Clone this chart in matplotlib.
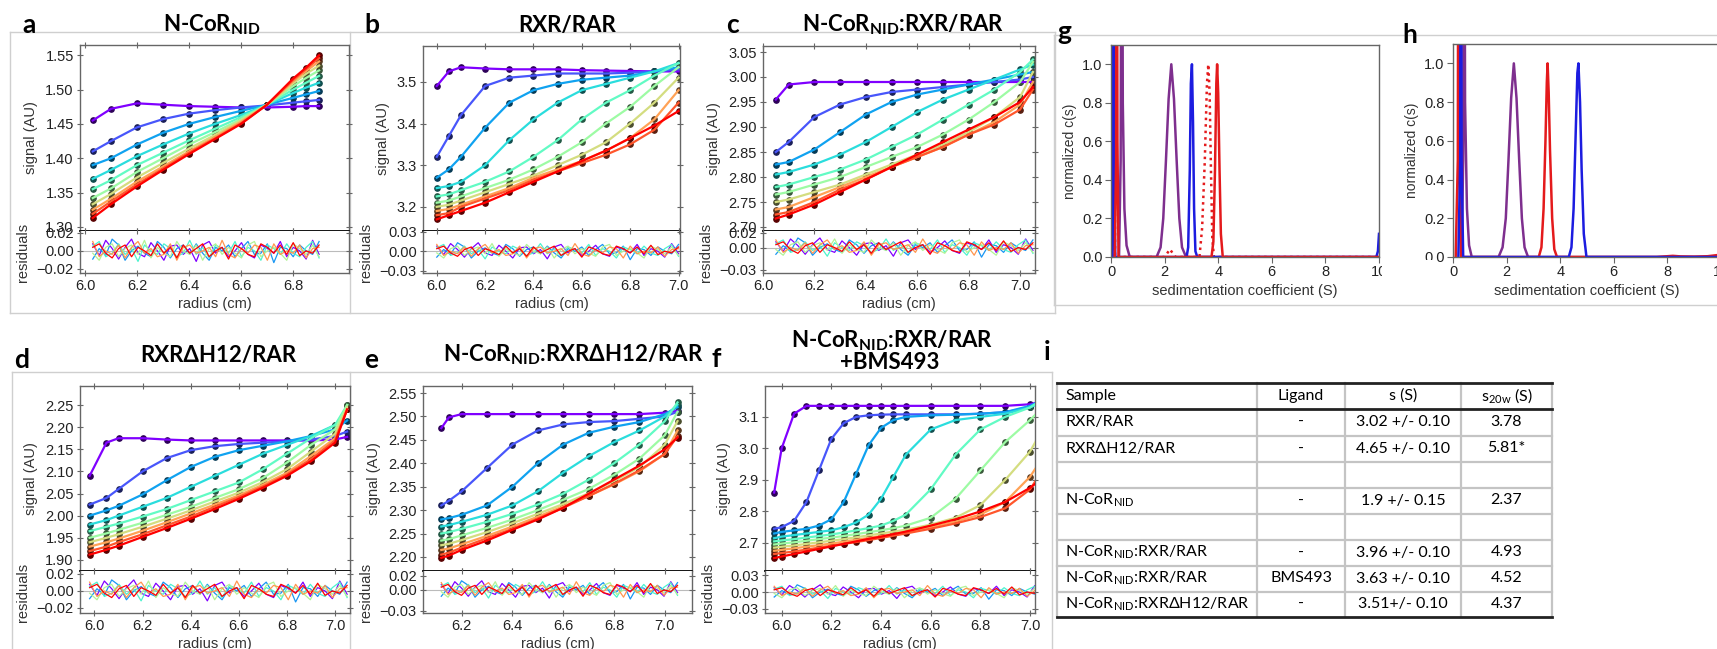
import numpy as np
import matplotlib
matplotlib.use("Agg")
import matplotlib.pyplot as plt
from matplotlib import cm
from matplotlib.patches import Rectangle

W, H = 1717, 649

plt.rcParams['font.family'] = ['Liberation Sans', 'DejaVu Sans']
plt.rcParams['mathtext.fontset'] = 'custom'
plt.rcParams['mathtext.rm'] = 'Lato'
plt.rcParams['mathtext.bf'] = 'Lato:bold'
plt.rcParams['mathtext.it'] = 'Lato:italic'

# ---- a: N-CoR NID ----
radius_a = [6.03, 6.1, 6.2, 6.3, 6.4, 6.5, 6.6, 6.7, 6.8, 6.85, 6.9]
scans_a = [
    [1.455, 1.472, 1.480, 1.478, 1.476, 1.475, 1.474, 1.474, 1.475, 1.476, 1.476],
    [1.410, 1.425, 1.445, 1.457, 1.465, 1.470, 1.474, 1.477, 1.481, 1.483, 1.485],
    [1.390, 1.400, 1.420, 1.437, 1.450, 1.460, 1.469, 1.478, 1.488, 1.493, 1.498],
    [1.370, 1.383, 1.403, 1.420, 1.436, 1.450, 1.463, 1.478, 1.495, 1.503, 1.510],
    [1.355, 1.368, 1.390, 1.408, 1.426, 1.443, 1.460, 1.478, 1.500, 1.510, 1.520],
    [1.342, 1.356, 1.380, 1.400, 1.420, 1.438, 1.457, 1.478, 1.505, 1.517, 1.528],
    [1.333, 1.348, 1.372, 1.393, 1.414, 1.434, 1.455, 1.478, 1.509, 1.523, 1.535],
    [1.325, 1.341, 1.366, 1.388, 1.410, 1.431, 1.453, 1.478, 1.512, 1.527, 1.541],
    [1.319, 1.337, 1.362, 1.385, 1.408, 1.429, 1.451, 1.478, 1.514, 1.530, 1.546],
    [1.313, 1.333, 1.359, 1.383, 1.406, 1.428, 1.450, 1.478, 1.516, 1.532, 1.550],
]

# ---- b: RXR/RAR ----
radius_b = [6.0, 6.05, 6.1, 6.2, 6.3, 6.4, 6.5, 6.6, 6.7, 6.8, 6.9, 7.0]
scans_b = [
    [3.490, 3.525, 3.535, 3.532, 3.530, 3.530, 3.530, 3.528, 3.527, 3.526, 3.525, 3.525],
    [3.320, 3.370, 3.420, 3.490, 3.510, 3.515, 3.520, 3.520, 3.520, 3.522, 3.525, 3.530],
    [3.270, 3.290, 3.320, 3.390, 3.450, 3.480, 3.495, 3.505, 3.510, 3.515, 3.525, 3.535],
    [3.245, 3.250, 3.260, 3.300, 3.360, 3.410, 3.450, 3.480, 3.495, 3.510, 3.525, 3.545],
    [3.225, 3.230, 3.240, 3.260, 3.285, 3.320, 3.360, 3.410, 3.450, 3.480, 3.515, 3.545],
    [3.210, 3.215, 3.225, 3.245, 3.265, 3.290, 3.320, 3.355, 3.400, 3.440, 3.490, 3.535],
    [3.200, 3.205, 3.215, 3.235, 3.255, 3.275, 3.300, 3.325, 3.355, 3.400, 3.450, 3.510],
    [3.190, 3.195, 3.205, 3.225, 3.245, 3.270, 3.290, 3.310, 3.335, 3.365, 3.410, 3.480],
    [3.180, 3.185, 3.200, 3.220, 3.240, 3.265, 3.285, 3.305, 3.325, 3.350, 3.385, 3.450],
    [3.170, 3.180, 3.190, 3.210, 3.235, 3.260, 3.285, 3.310, 3.335, 3.365, 3.395, 3.430],
]

# ---- c: N-CoR NID : RXR/RAR ----
radius_c = [6.05, 6.1, 6.2, 6.3, 6.4, 6.5, 6.6, 6.7, 6.8, 6.9, 7.0, 7.05]
scans_c = [
    [2.955, 2.985, 2.990, 2.990, 2.990, 2.990, 2.990, 2.990, 2.990, 2.990, 2.990, 2.990],
    [2.850, 2.870, 2.920, 2.945, 2.960, 2.970, 2.975, 2.980, 2.985, 2.990, 2.995, 3.000],
    [2.825, 2.830, 2.855, 2.890, 2.925, 2.950, 2.965, 2.975, 2.985, 2.995, 3.005, 3.010],
    [2.805, 2.810, 2.825, 2.845, 2.870, 2.900, 2.930, 2.955, 2.975, 2.995, 3.015, 3.025],
    [2.780, 2.785, 2.800, 2.815, 2.835, 2.860, 2.885, 2.915, 2.945, 2.975, 3.010, 3.035],
    [2.765, 2.770, 2.785, 2.800, 2.820, 2.840, 2.860, 2.885, 2.915, 2.950, 2.990, 3.030],
    [2.750, 2.755, 2.770, 2.785, 2.805, 2.825, 2.845, 2.865, 2.890, 2.920, 2.960, 3.010],
    [2.735, 2.740, 2.760, 2.780, 2.800, 2.820, 2.840, 2.860, 2.885, 2.910, 2.945, 2.990],
    [2.725, 2.730, 2.750, 2.775, 2.795, 2.820, 2.840, 2.860, 2.885, 2.905, 2.935, 2.975],
    [2.717, 2.725, 2.745, 2.770, 2.795, 2.820, 2.845, 2.870, 2.895, 2.920, 2.950, 2.980],
]

# ---- d: RXR dH12/RAR ----
radius_d = [5.98, 6.05, 6.1, 6.2, 6.3, 6.4, 6.5, 6.6, 6.7, 6.8, 6.9, 7.0, 7.05]
scans_d = [
    [2.090, 2.165, 2.175, 2.175, 2.172, 2.170, 2.170, 2.170, 2.170, 2.170, 2.170, 2.172, 2.178],
    [2.025, 2.040, 2.060, 2.100, 2.130, 2.148, 2.157, 2.162, 2.165, 2.168, 2.172, 2.180, 2.190],
    [2.000, 2.012, 2.022, 2.048, 2.080, 2.110, 2.133, 2.148, 2.158, 2.168, 2.180, 2.195, 2.215],
    [1.980, 1.990, 2.000, 2.020, 2.040, 2.065, 2.090, 2.115, 2.140, 2.160, 2.180, 2.205, 2.240],
    [1.965, 1.975, 1.982, 1.998, 2.015, 2.035, 2.055, 2.075, 2.105, 2.140, 2.175, 2.205, 2.250],
    [1.950, 1.960, 1.968, 1.984, 2.002, 2.020, 2.040, 2.060, 2.085, 2.120, 2.160, 2.195, 2.250],
    [1.940, 1.950, 1.958, 1.975, 1.993, 2.012, 2.032, 2.052, 2.076, 2.105, 2.145, 2.185, 2.245],
    [1.930, 1.940, 1.948, 1.966, 1.985, 2.005, 2.025, 2.046, 2.070, 2.097, 2.135, 2.175, 2.240],
    [1.920, 1.930, 1.940, 1.958, 1.978, 1.998, 2.020, 2.042, 2.066, 2.093, 2.128, 2.170, 2.240],
    [1.912, 1.923, 1.932, 1.952, 1.972, 1.993, 2.015, 2.038, 2.063, 2.090, 2.123, 2.165, 2.240],
]

# ---- e: N-CoR NID : RXR dH12/RAR ----
radius_e = [6.12, 6.15, 6.2, 6.3, 6.4, 6.5, 6.6, 6.7, 6.8, 6.9, 7.0, 7.05]
scans_e = [
    [2.475, 2.498, 2.505, 2.505, 2.505, 2.505, 2.505, 2.505, 2.505, 2.505, 2.508, 2.512],
    [2.310, 2.320, 2.340, 2.390, 2.440, 2.470, 2.483, 2.488, 2.490, 2.495, 2.500, 2.510],
    [2.280, 2.283, 2.290, 2.310, 2.350, 2.400, 2.440, 2.465, 2.478, 2.488, 2.505, 2.520],
    [2.265, 2.268, 2.275, 2.290, 2.310, 2.340, 2.380, 2.415, 2.445, 2.470, 2.500, 2.525],
    [2.250, 2.253, 2.260, 2.275, 2.292, 2.312, 2.335, 2.365, 2.400, 2.440, 2.490, 2.530],
    [2.235, 2.238, 2.246, 2.262, 2.280, 2.300, 2.322, 2.345, 2.375, 2.410, 2.460, 2.510],
    [2.225, 2.228, 2.236, 2.253, 2.272, 2.292, 2.313, 2.336, 2.362, 2.392, 2.440, 2.490],
    [2.215, 2.218, 2.227, 2.245, 2.265, 2.286, 2.308, 2.330, 2.355, 2.383, 2.420, 2.470],
    [2.205, 2.209, 2.220, 2.240, 2.260, 2.282, 2.305, 2.330, 2.356, 2.385, 2.420, 2.458],
    [2.198, 2.203, 2.215, 2.235, 2.258, 2.280, 2.305, 2.335, 2.365, 2.395, 2.430, 2.455],
]

# ---- f: N-CoR NID : RXR/RAR + BMS493 ----
radius_f = [5.97, 6.0, 6.05, 6.1, 6.15, 6.2, 6.25, 6.3, 6.35, 6.4, 6.45, 6.5,
            6.6, 6.7, 6.8, 6.9, 7.0, 7.05]
scans_f = [
    [2.860, 3.000, 3.110, 3.135, 3.135, 3.135, 3.135, 3.135, 3.135, 3.135, 3.135, 3.135,
     3.135, 3.135, 3.135, 3.135, 3.140, 3.150],
    [2.745, 2.750, 2.770, 2.830, 2.930, 3.030, 3.080, 3.100, 3.105, 3.107, 3.108, 3.108,
     3.108, 3.108, 3.110, 3.115, 3.130, 3.150],
    [2.730, 2.735, 2.740, 2.745, 2.755, 2.775, 2.830, 2.920, 3.010, 3.065, 3.090, 3.100,
     3.105, 3.107, 3.110, 3.115, 3.135, 3.155],
    [2.715, 2.720, 2.725, 2.730, 2.735, 2.740, 2.750, 2.765, 2.790, 2.840, 2.910, 2.980,
     3.060, 3.090, 3.100, 3.110, 3.130, 3.150],
    [2.705, 2.708, 2.712, 2.717, 2.722, 2.727, 2.733, 2.740, 2.747, 2.755, 2.770, 2.790,
     2.870, 2.980, 3.060, 3.100, 3.130, 3.155],
    [2.695, 2.698, 2.702, 2.707, 2.712, 2.717, 2.722, 2.728, 2.734, 2.740, 2.747, 2.755,
     2.780, 2.840, 2.930, 3.020, 3.090, 3.130],
    [2.685, 2.688, 2.692, 2.697, 2.702, 2.707, 2.712, 2.718, 2.724, 2.730, 2.736, 2.742,
     2.758, 2.780, 2.820, 2.900, 2.990, 3.060],
    [2.675, 2.678, 2.683, 2.688, 2.693, 2.698, 2.704, 2.710, 2.716, 2.722, 2.728, 2.735,
     2.750, 2.768, 2.790, 2.830, 2.910, 2.970],
    [2.665, 2.668, 2.673, 2.679, 2.685, 2.691, 2.697, 2.703, 2.709, 2.716, 2.723, 2.730,
     2.745, 2.762, 2.782, 2.810, 2.870, 2.930],
    [2.652, 2.657, 2.665, 2.673, 2.681, 2.689, 2.697, 2.705, 2.713, 2.720, 2.728, 2.736,
     2.755, 2.775, 2.800, 2.830, 2.875, 2.905],
]

# residual traces (units of 0.001), estimated
residuals = [
    [6, -4, 9, 2, -7, 3, 10, -2, -5, 7, 0, -8, 4, 5, -3, 2, -9, 5, 8, -2, 3, -5, 0, 7, -3, -6, 5, 2, -2, 8, -5, 3, 0, -7, 9, -3],
    [-7, 2, -4, 10, 5, -8, 0, 4, -2, -5, 8, 3, -6, 2, 5, -3, 6, -2, -8, 3, 0, 5, -5, 2, 8, -3, -2, 6, -10, 3, 2, -5, 5, 0, -3, 8],
    [4, 8, -5, -2, 6, -3, 2, -9, 5, 0, -3, 6, 2, -5, -2, 9, -3, 3, -6, 5, 2, -2, 8, -5, 3, 0, -8, 5, 2, -3, 6, -2, -5, 3, 8, -6],
    [-2, -8, 3, 6, -5, 2, 5, -3, 9, -6, 3, -2, -5, 8, 0, -3, 5, -8, 2, 6, -3, 3, -2, -6, 5, 8, -5, 0, 3, -2, -8, 6, 2, -3, 5, -5],
    [8, -5, 0, -3, 5, -6, 3, 8, -2, 2, -5, -3, 6, -8, 3, 5, -2, 0, 3, -5, 9, -3, -6, 2, -2, 5, 3, -8, 6, -3, 0, -2, 5, -6, 2, 3],
    [3, 6, -2, -6, 2, 5, -5, 3, 0, -4, 6, -2, 3, -6, 5, -2, 2, 6, -5, 0, 3, -7, 5, 2, -3, -5, 6, 3, -2, 5, -3, 7, -4, 0, -2, 5],
]

# sedimentation coefficient distributions, panel g
g_purple_x = [0.30, 0.36, 0.40, 0.44, 0.50, 0.58, 0.70, 1.70, 1.85, 1.95, 2.05, 2.15, 2.25, 2.35, 2.45, 2.55, 2.65, 2.80, 10.0]
g_purple_y = [0.0, 0.5, 3.0, 0.8, 0.25, 0.06, 0.0, 0.0, 0.05, 0.2, 0.5, 0.82, 1.0, 0.82, 0.5, 0.2, 0.05, 0.0, 0.0]
g_blue_x = [0.0, 0.06, 0.09, 0.12, 0.16, 2.82, 2.88, 2.94, 2.98, 3.02, 3.06, 3.10, 3.15, 3.22, 9.90, 9.96, 10.0]
g_blue_y = [0.0, 0.0, 3.0, 0.4, 0.0, 0.0, 0.05, 0.45, 0.9, 1.0, 0.7, 0.25, 0.03, 0.0, 0.0, 0.03, 0.12]
g_red_x = [0.14, 0.19, 0.21, 0.24, 0.28, 3.75, 3.82, 3.88, 3.93, 3.96, 4.00, 4.05, 4.10, 4.17, 10.0]
g_red_y = [0.0, 0.5, 3.0, 0.6, 0.0, 0.0, 0.08, 0.45, 0.9, 1.0, 0.85, 0.45, 0.12, 0.0, 0.0]
g_reddot_x = [0.05, 0.10, 0.15, 2.0, 2.1, 2.2, 2.3, 2.4, 3.3, 3.4, 3.5, 3.58, 3.63, 3.68, 3.73, 3.78, 3.84, 10.0]
g_reddot_y = [0.0, 3.0, 0.0, 0.0, 0.02, 0.04, 0.02, 0.0, 0.0, 0.15, 0.5, 0.9, 1.0, 0.85, 0.45, 0.1, 0.0, 0.0]

# panel h
h_purple_x = [0.32, 0.38, 0.41, 0.45, 0.52, 0.60, 0.70, 1.70, 1.85, 1.97, 2.07, 2.17, 2.27, 2.37, 2.47, 2.57, 2.67, 2.80, 10.0]
h_purple_y = [0.0, 0.5, 3.0, 0.8, 0.25, 0.06, 0.0, 0.0, 0.05, 0.2, 0.5, 0.82, 1.0, 0.82, 0.5, 0.2, 0.05, 0.0, 0.0]
h_red_x = [0.10, 0.18, 0.21, 0.24, 0.30, 3.20, 3.30, 3.38, 3.45, 3.50, 3.53, 3.57, 3.62, 3.70, 3.78, 3.88,
           7.6, 8.0, 8.2, 8.5, 9.0, 9.5, 10.0]
h_red_y = [0.0, 0.5, 3.0, 0.5, 0.0, 0.0, 0.05, 0.25, 0.6, 0.9, 1.0, 0.85, 0.55, 0.2, 0.04, 0.0,
           0.0, 0.004, 0.006, 0.003, 0.002, 0.004, 0.012]
h_blue_x = [0.20, 0.27, 0.29, 0.32, 0.38, 4.32, 4.42, 4.50, 4.58, 4.64, 4.68, 4.74, 4.80, 4.88, 4.98, 10.0]
h_blue_y = [0.0, 0.5, 3.0, 0.5, 0.0, 0.0, 0.05, 0.25, 0.65, 0.95, 1.0, 0.8, 0.45, 0.12, 0.0, 0.0]

# table i
NID = "N-CoR$_{\\mathrm{NID}}$"
tab_header = ["Sample", "Ligand", "s (S)", "s$_{\\mathrm{20w}}$ (S)"]
tab_sample = ["RXR/RAR", "RXR\u0394H12/RAR", "", NID, "",
              NID + ":RXR/RAR", NID + ":RXR/RAR", NID + ":RXR\u0394H12/RAR"]
tab_ligand = ["-", "-", "", "-", "", "-", "BMS493", "-"]
tab_s = ["3.02 +/- 0.10", "4.65 +/- 0.10", "", "1.9 +/- 0.15", "",
         "3.96 +/- 0.10", "3.63 +/- 0.10", "3.51+/- 0.10"]
tab_s20w = ["3.78", "5.81*", "", "2.37", "", "4.93", "4.52", "4.37"]

PURPLE, BLUE, RED = '#7e2f8e', '#1c1ce0', '#e41a1c'
SPINE = '#666666'
TFONT = ['Lato', 'DejaVu Sans']
NID_B = "N-CoR$_{\\mathbf{NID}}$"


def px_axes(fig, l, t, r, b):
    return fig.add_axes([l / W, 1 - b / H, (r - l) / W, (b - t) / H])


def sv_panel(fig, box, scans, radius, xlim, ylim, yticks, yfmt, xticks, rlim, rticks):
    l, t, r, d, b = box
    ax = px_axes(fig, l, t, r, d)
    rx = px_axes(fig, l, d, r, b)
    n = len(scans)
    for i, scan in enumerate(scans):
        col = cm.rainbow(i / (n - 1))
        dark = tuple(c * 0.35 for c in col[:3])
        ax.plot(radius, scan, 'o', ms=3.8, color=dark, zorder=2)
        ax.plot(radius, scan, '-', lw=1.6, color=col, zorder=3)
    ax.set_xlim(xlim)
    ax.set_ylim(ylim)
    ax.set_yticks(yticks)
    ax.set_yticklabels([yfmt % v for v in yticks])
    ax.set_xticks(xticks)
    ax.set_xticklabels([])
    ax.set_ylabel('signal (AU)', fontsize=10.5, color='#333333', labelpad=5)

    nr = len(residuals)
    rx.axhline(0, color='#bbbbbb', lw=0.8, zorder=1)
    for i, res in enumerate(residuals):
        xs = np.linspace(radius[0], radius[-1], len(res))
        rx.plot(xs, np.array(res) * 0.0013, lw=0.9, color=cm.rainbow(i / (nr - 1)), zorder=2)
    rx.set_xlim(xlim)
    rx.set_ylim(rlim)
    rx.set_yticks(rticks)
    rx.set_yticklabels(['%.2f' % v if v >= 0 else '\u2212%.2f' % -v for v in rticks])
    rx.set_xticks(xticks)
    rx.set_xticklabels(['%.1f' % v for v in xticks])
    rx.set_ylabel('residuals', fontsize=10.5, color='#333333', labelpad=5)
    rx.set_xlabel('radius (cm)', fontsize=10.5, color='#333333', labelpad=3)

    for a in (ax, rx):
        a.tick_params(direction='inout', length=5, width=0.8, color=SPINE,
                      top=True, right=True, labelsize=10.5, labelcolor='#222222', pad=2)
        for s in a.spines.values():
            s.set_color(SPINE)
            s.set_linewidth(1.0)
    ax.spines['bottom'].set_color('black')
    ax.spines['bottom'].set_linewidth(1.3)
    rx.spines['top'].set_visible(False)


def cs_panel(fig, box, curves):
    ax = px_axes(fig, *box)
    for xs, ys, col, ls in curves:
        ax.plot(xs, ys, color=col, lw=1.8, linestyle=ls)
    ax.set_xlim(0, 10)
    ax.set_ylim(0, 1.1)
    ax.set_xticks([0, 2, 4, 6, 8, 10])
    ax.set_xticklabels(['0', '2', '4', '6', '8', '10'])
    ax.set_yticks([0, 0.2, 0.4, 0.6, 0.8, 1.0])
    ax.set_yticklabels(['0.0', '0.2', '0.4', '0.6', '0.8', '1.0'])
    ax.tick_params(direction='out', length=4, width=0.8, color=SPINE,
                   labelsize=10.5, labelcolor='#222222', pad=2)
    for s in ax.spines.values():
        s.set_color(SPINE)
        s.set_linewidth(1.0)
    ax.set_ylabel('normalized c(s)', fontsize=10, color='#333333', labelpad=4)
    ax.set_xlabel('sedimentation coefficient (S)', fontsize=10.5, color='#333333', labelpad=3)
    return ax


fig = plt.figure(figsize=(W / 100, H / 100), dpi=100)

# overlay in pixel coordinates for boxes, titles and table
ov = fig.add_axes([0, 0, 1, 1])
ov.set_xlim(0, W)
ov.set_ylim(H, 0)
ov.axis('off')
ov.set_zorder(-1)

box_col = '#cfcfcf'
for xs, ys in [([10, 1055], [32, 32]), ([10, 1055], [313, 313]), ([10, 10], [32, 313]),
               ([350, 350], [32, 313]), ([1055, 1055], [32, 313]),
               ([1054, 1717], [35, 35]), ([1054, 1717], [305, 305]), ([1054, 1054], [35, 305]),
               ([12, 1052], [372, 372]), ([12, 12], [372, 649]), ([350, 350], [372, 649]),
               ([1052, 1052], [372, 649])]:
    ov.plot(xs, ys, color=box_col, lw=1.0)

sv_panel(fig, (80, 45, 349, 231, 273), scans_a, radius_a, (5.981, 7.015), (1.294, 1.565),
         [1.30, 1.35, 1.40, 1.45, 1.50, 1.55], '%.2f', [6.0, 6.2, 6.4, 6.6, 6.8],
         (-0.0245, 0.022), [-0.02, 0.0, 0.02])
sv_panel(fig, (423, 46, 680, 231, 273), scans_b, radius_b, (5.943, 7.006), (3.142, 3.586),
         [3.2, 3.3, 3.4, 3.5], '%.1f', [6.0, 6.2, 6.4, 6.6, 6.8, 7.0],
         (-0.0334, 0.031), [-0.03, 0.0, 0.03])
sv_panel(fig, (763, 46, 1035, 231, 273), scans_c, radius_c, (6.0, 7.058), (2.692, 3.062),
         [2.70, 2.75, 2.80, 2.85, 2.90, 2.95, 3.00, 3.05], '%.2f', [6.0, 6.2, 6.4, 6.6, 6.8, 7.0],
         (-0.0345, 0.0225), [-0.03, 0.0, 0.02])
sv_panel(fig, (80, 386, 350, 571, 613), scans_d, radius_d, (5.94, 7.062), (1.875, 2.293),
         [1.90, 1.95, 2.00, 2.05, 2.10, 2.15, 2.20, 2.25], '%.2f', [6.0, 6.2, 6.4, 6.6, 6.8, 7.0],
         (-0.026, 0.0235), [-0.02, 0.0, 0.02])
sv_panel(fig, (423, 386, 692, 571, 613), scans_e, radius_e, (6.048, 7.107), (2.17, 2.565),
         [2.20, 2.25, 2.30, 2.35, 2.40, 2.45, 2.50, 2.55], '%.2f', [6.2, 6.4, 6.6, 6.8, 7.0],
         (-0.033, 0.027), [-0.03, 0.0, 0.02])
sv_panel(fig, (765, 386, 1035, 571, 613), scans_f, radius_f, (5.933, 7.02), (2.611, 3.198),
         [2.7, 2.8, 2.9, 3.0, 3.1], '%.1f', [6.0, 6.2, 6.4, 6.6, 6.8, 7.0],
         (-0.038, 0.038), [-0.03, 0.0, 0.03])

cs_panel(fig, (1111, 45, 1379, 257), [
    (g_reddot_x, g_reddot_y, RED, (0, (1, 1.6))),
    (g_purple_x, g_purple_y, PURPLE, '-'),
    (g_blue_x, g_blue_y, BLUE, '-'),
    (g_red_x, g_red_y, RED, '-'),
])
cs_panel(fig, (1453, 44, 1721, 257), [
    (h_purple_x, h_purple_y, PURPLE, '-'),
    (h_red_x, h_red_y, RED, '-'),
    (h_blue_x, h_blue_y, BLUE, '-'),
])
# the g panel image is cropped through its last tick label
fig.add_artist(Rectangle((1382 / W, 1 - 290 / H), 55 / W, 30 / H, transform=fig.transFigure,
                         facecolor='white', edgecolor='none', zorder=5))

# panel letters and titles
for x, y, s in [(22, 33, 'a'), (364, 33, 'b'), (726, 33, 'c'), (1057, 40, 'g'), (1402, 43, 'h'),
                (14, 368, 'd'), (364, 368, 'e'), (711, 367, 'f'), (1044, 360, 'i')]:
    ov.text(x, y, s, fontsize=19, fontweight='bold', family=TFONT, ha='left', va='baseline')

for x, y, s in [(212, 32, NID_B), (567, 32, "RXR/RAR"),
                (903, 32, NID_B + ":RXR/RAR"), (218, 362, "RXR\u0394H12/RAR"),
                (573, 362, NID_B + ":RXR\u0394H12/RAR"),
                (892, 348, NID_B + ":RXR/RAR"), (890, 369, "+BMS493")]:
    ov.text(x, y, s, fontsize=16, fontweight='bold', family=TFONT, ha='center', va='baseline')

# table
cols = [1057, 1257, 1345, 1461, 1552]
rows = [383, 409, 435.5, 461.5, 487.5, 513.5, 539.5, 565.5, 591.5, 617]
for y in rows[2:-1]:
    ov.plot([cols[0], cols[-1]], [y, y], color='#c4c4c4', lw=1.6)
for x in cols:
    ov.plot([x, x], [rows[0], rows[-1]], color='#c4c4c4', lw=1.6)
for y in (rows[0], rows[1], rows[-1]):
    ov.plot([cols[0], cols[-1]], [y, y], color='#222222', lw=2.0)

for j, htxt in enumerate(tab_header):
    yc = (rows[0] + rows[1]) / 2
    if j == 0:
        ov.text(cols[0] + 8, yc, htxt, fontsize=11.5, family=TFONT, ha='left', va='center')
    else:
        ov.text((cols[j] + cols[j + 1]) / 2, yc, htxt, fontsize=11.5, family=TFONT,
                ha='center', va='center')
for i in range(len(tab_sample)):
    yc = (rows[i + 1] + rows[i + 2]) / 2
    ov.text(cols[0] + 8, yc, tab_sample[i], fontsize=11.5, family=TFONT, ha='left', va='center')
    for j, col_vals in enumerate((tab_ligand, tab_s, tab_s20w)):
        ov.text((cols[j + 1] + cols[j + 2]) / 2, yc, col_vals[i], fontsize=11.5, family=TFONT,
                ha='center', va='center')

fig.savefig('out.png', dpi=100)
